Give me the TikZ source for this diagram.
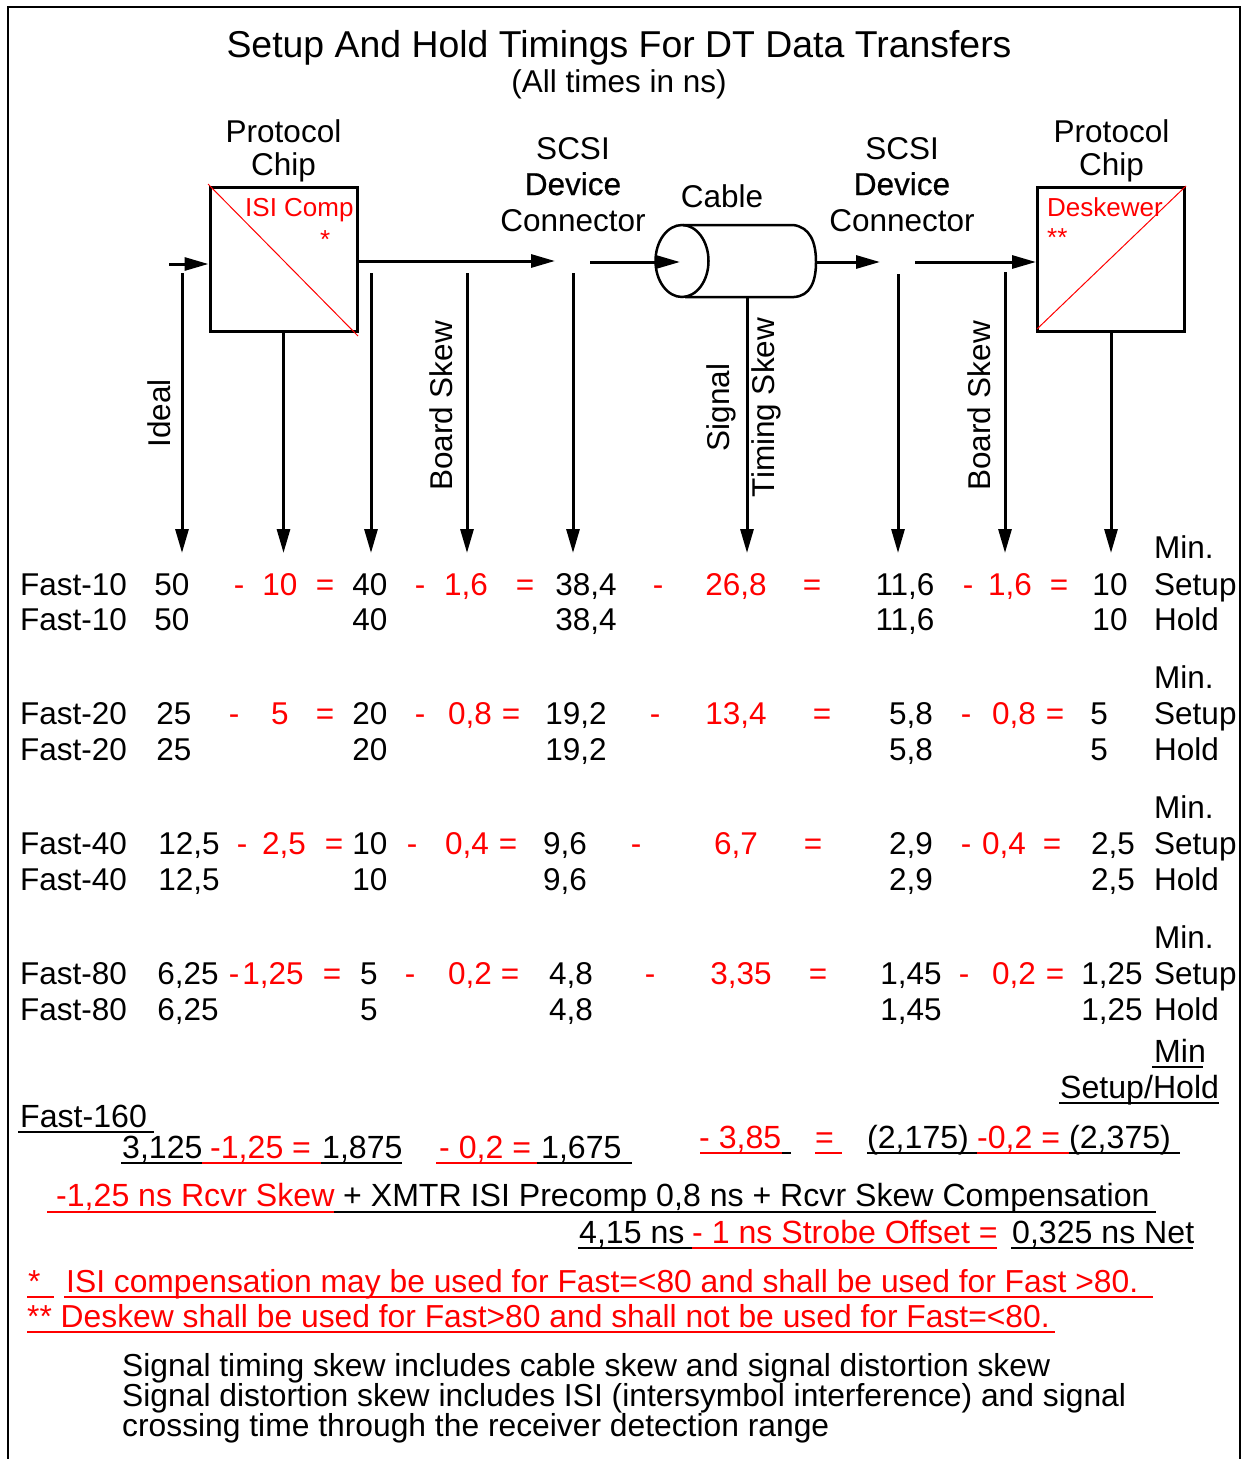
\documentclass[tikz,border=0pt]{standalone}
\usepackage{fontspec}
\setmainfont{Liberation Sans}
\usetikzlibrary{arrows.meta,calc}
\newcommand{\tC}[5]{\node[txt,#4,anchor=base] (#1) at (#2,#3) {#5};}
\newcommand{\tL}[5]{\node[txt,#4,anchor=base west] (#1) at (#2,#3) {#5};}
\newcommand{\bL}[5]{\node[btxt,#4,anchor=base west] (#1) at (#2,#3) {#5};}
\newcommand{\nL}[5]{\node[ntxt,#4,anchor=base west] (#1) at (#2,#3) {#5};}
\begin{document}
\begin{tikzpicture}[x=1pt,y=-1pt,
  txt/.style={inner sep=0pt, font=\fontsize{31.5}{35}\selectfont},
  btxt/.style={inner sep=0pt, font=\fontsize{32.1}{35}\selectfont},
  ntxt/.style={inner sep=0pt, font=\fontsize{31.8}{35}\selectfont},
  ttl/.style={inner sep=0pt, font=\fontsize{37.4}{42}\selectfont},
  sm/.style={inner sep=0pt, font=\fontsize{26}{30}\selectfont, text=red},
  r/.style={text=red},
  k/.style={text=black},
  arr/.style={line width=3pt, -{Triangle[length=24pt,width=13pt]}},
  ul/.style={line width=2.5pt},
  ulr/.style={line width=2.5pt, red},
  chipbox/.style={draw, line width=3pt, inner sep=0pt, minimum width=147pt, minimum height=144pt},
]
\useasboundingbox (0,0) rectangle (1245,1459);
\fill[white] (0,0) rectangle (1245,1459);
\draw[line width=2pt] (8,1459) -- (8,7) -- (1240,7) -- (1240,1459);

% titles
\node[ttl,anchor=base] (title) at (619,57) {Setup And Hold Timings For DT Data Transfers};
\node[txt,anchor=base] (subtitle) at (619,92) {(All times in ns)};

% top labels
\tC{pcL1}{283.5}{142}{k}{Protocol}
\tC{pcL2}{283.5}{175}{k}{Chip}
\tC{pcR1}{1111.5}{142}{k}{Protocol}
\tC{pcR2}{1111.5}{175}{k}{Chip}
\tC{scL1}{573}{159}{k}{SCSI}
\tC{scL2}{573}{195}{k}{\addfontfeature{FakeBold=0.6}Device}
\tC{scL3}{573}{231}{k}{Connector}
\tC{scR1}{902}{159}{k}{SCSI}
\tC{scR2}{902}{195}{k}{\addfontfeature{FakeBold=0.6}Device}
\tC{scR3}{902}{231}{k}{Connector}
\tC{cablelbl}{722}{207}{k}{Cable}

% chips
\node[chipbox] (chipL) at (283.5,259) {};
\node[chipbox] (chipR) at (1111,259) {};
\draw[red, line width=1pt] (208,184) -- (358,336);
\draw[red, line width=1pt] (1037,329) -- (1186,186);
\node[sm,anchor=base west] (isicomp) at (245,216) {ISI Comp};
\node[sm,anchor=base west] (star1) at (320,248) {*};
\node[sm,anchor=base west] (deskewer) at (1047,216) {Deskewer};
\node[sm,anchor=base west] (star2) at (1047,246) {**};

% cable
\draw[line width=2.5pt] (683,225) -- (793,225) .. controls (810,227) and (816,242) .. (816,262) .. controls (816,282) and (810,296) .. (794,297) -- (685,297);
\draw[line width=2.5pt] (682,261) ellipse [x radius=26.5pt, y radius=36pt];

% coordinates
\coordinate (inL) at (169,264);
\coordinate (scsiLin) at (555,261);
\coordinate (scsiLout) at (590,262);
\coordinate (cabIn) at (680,262);
\coordinate (cabOut) at (816,262);
\coordinate (scsiRin) at (880,262);
\coordinate (scsiRout) at (915,262);
\coordinate (cabBot) at (747,297);
\coordinate (t1) at (182,273); \coordinate (b1) at (182,553);
\coordinate (b2) at (283.5,553);
\coordinate (t3) at (371,273); \coordinate (b3) at (371,553);
\coordinate (t4) at (467,273); \coordinate (b4) at (467,553);
\coordinate (t5) at (573,273); \coordinate (b5) at (573,553);
\coordinate (b6) at (747,553);
\coordinate (t7) at (898,274); \coordinate (b7) at (898,553);
\coordinate (t8) at (1005,272); \coordinate (b8) at (1005,553);
\coordinate (b9) at (1111,553);

% horizontal arrows
\draw[arr] (inL) -- (inL -| chipL.west);
\draw[arr] (chipL.east |- scsiLin) -- (scsiLin);
\draw[arr] (scsiLout) -- (cabIn);
\draw[arr] (cabOut) -- (scsiRin);
\draw[arr] (scsiRout) -- (scsiRout -| chipR.west);

% vertical arrows
\draw[arr] (t1) -- (b1);
\draw[arr] (chipL.south) -- (b2);
\draw[arr] (t3) -- (b3);
\draw[arr] (t4) -- (b4);
\draw[arr] (t5) -- (b5);
\draw[arr] (cabBot) -- (b6);
\draw[arr] (t7) -- (b7);
\draw[arr] (t8) -- (b8);
\draw[arr] (chipR.south) -- (b9);

% vertical labels
\node[txt,rotate=90,anchor=base] (lblIdeal) at (170,413.5) {Ideal};
\node[txt,rotate=90,anchor=base] (lblBS1) at (452,406) {Board Skew};
\node[txt,rotate=90,anchor=base] (lblSig) at (729,407.5) {Signal};
\node[txt,rotate=90,anchor=base] (lblTS) at (774,407.5) {Timing Skew};
\node[txt,rotate=90,anchor=base] (lblBS2) at (990,406) {Board Skew};

% ---- Fast-10
\tL{minA}{1154}{558}{k}{Min.}
\tL{a0}{20}{595}{k}{Fast-10}
\tC{a1}{172}{595}{k}{50}
\tC{a2}{239}{595}{r}{-}
\tC{a3}{280}{595}{r}{10}
\tC{a4}{325}{595}{r}{=}
\tC{a5}{370}{595}{k}{40}
\tC{a6}{420}{595}{r}{-}
\tC{a7}{466}{595}{r}{1,6}
\tC{a8}{525}{595}{r}{=}
\tC{a9}{586}{595}{k}{38,4}
\tC{a10}{658}{595}{r}{-}
\tC{a11}{736}{595}{r}{26,8}
\tC{a12}{812}{595}{r}{=}
\tC{a13}{905}{595}{k}{11,6}
\tC{a14}{968}{595}{r}{-}
\tC{a15}{1010}{595}{r}{1,6}
\tC{a16}{1059}{595}{r}{=}
\tC{a17}{1110}{595}{k}{10}
\tL{a18}{1154}{595}{k}{Setup}
\tL{aa0}{20}{630}{k}{Fast-10}
\tC{aa1}{172}{630}{k}{50}
\tC{aa5}{370}{630}{k}{40}
\tC{aa9}{586}{630}{k}{38,4}
\tC{aa13}{905}{630}{k}{11,6}
\tC{aa17}{1110}{630}{k}{10}
\tL{aa18}{1154}{630}{k}{Hold}

% ---- Fast-20
\tL{minB}{1154}{688}{k}{Min.}
\tL{b0}{20}{724}{k}{Fast-20}
\tC{bq1}{174}{724}{k}{25}
\tC{bq2}{234}{724}{r}{-}
\tC{bq3}{280}{724}{r}{5}
\tC{bq4}{325}{724}{r}{=}
\tC{bq5}{370}{724}{k}{20}
\tC{bq6}{420}{724}{r}{-}
\tC{bq7}{470}{724}{r}{0,8}
\tC{bq8}{511}{724}{r}{=}
\tC{bq9}{576}{724}{k}{19,2}
\tC{bq10}{655}{724}{r}{-}
\tC{bq11}{736}{724}{r}{13,4}
\tC{bq12}{822}{724}{r}{=}
\tC{bq13}{911}{724}{k}{5,8}
\tC{bq14}{966}{724}{r}{-}
\tC{bq15}{1014}{724}{r}{0,8}
\tC{bq16}{1055}{724}{r}{=}
\tC{bq17}{1099}{724}{k}{5}
\tL{bq18}{1154}{724}{k}{Setup}
\tL{bb0}{20}{760}{k}{Fast-20}
\tC{bb1}{174}{760}{k}{25}
\tC{bb5}{370}{760}{k}{20}
\tC{bb9}{576}{760}{k}{19,2}
\tC{bb13}{911}{760}{k}{5,8}
\tC{bb17}{1099}{760}{k}{5}
\tL{bb18}{1154}{760}{k}{Hold}

% ---- Fast-40
\tL{minC}{1154}{818}{k}{Min.}
\tL{c0}{20}{854}{k}{Fast-40}
\tC{c1}{189}{854}{k}{12,5}
\tC{c2}{242}{854}{r}{-}
\tC{c3}{284}{854}{r}{2,5}
\tC{c4}{334}{854}{r}{=}
\tC{c5}{370}{854}{k}{10}
\tC{c6}{412}{854}{r}{-}
\tC{c7}{467}{854}{r}{0,4}
\tC{c8}{508}{854}{r}{=}
\tC{c9}{565}{854}{k}{9,6}
\tC{c10}{636}{854}{r}{-}
\tC{c11}{736}{854}{r}{6,7}
\tC{c12}{813}{854}{r}{=}
\tC{c13}{911}{854}{k}{2,9}
\tC{c14}{966}{854}{r}{-}
\tC{c15}{1004}{854}{r}{0,4}
\tC{c16}{1052}{854}{r}{=}
\tC{c17}{1113}{854}{k}{2,5}
\tL{c18}{1154}{854}{k}{Setup}
\tL{cc0}{20}{890}{k}{Fast-40}
\tC{cc1}{189}{890}{k}{12,5}
\tC{cc5}{370}{890}{k}{10}
\tC{cc9}{565}{890}{k}{9,6}
\tC{cc13}{911}{890}{k}{2,9}
\tC{cc17}{1113}{890}{k}{2,5}
\tL{cc18}{1154}{890}{k}{Hold}

% ---- Fast-80
\tL{minD}{1154}{948}{k}{Min.}
\tL{d0}{20}{984}{k}{Fast-80}
\tC{d1}{188}{984}{k}{6,25}
\tC{d2}{234}{984}{r}{-}
\tC{d3}{273}{984}{r}{1,25}
\tC{d4}{332}{984}{r}{=}
\tC{d5}{369}{984}{k}{5}
\tC{d6}{410}{984}{r}{-}
\tC{d7}{470}{984}{r}{0,2}
\tC{d8}{510}{984}{r}{=}
\tC{d9}{571}{984}{k}{4,8}
\tC{d10}{650}{984}{r}{-}
\tC{d11}{741}{984}{r}{3,35}
\tC{d12}{818}{984}{r}{=}
\tC{d13}{911}{984}{k}{1,45}
\tC{d14}{964}{984}{r}{-}
\tC{d15}{1014}{984}{r}{0,2}
\tC{d16}{1055}{984}{r}{=}
\tC{d17}{1112}{984}{k}{1,25}
\tL{d18}{1154}{984}{k}{Setup}
\tL{dd0}{20}{1020}{k}{Fast-80}
\tC{dd1}{188}{1020}{k}{6,25}
\tC{dd5}{369}{1020}{k}{5}
\tC{dd9}{571}{1020}{k}{4,8}
\tC{dd13}{911}{1020}{k}{1,45}
\tC{dd17}{1112}{1020}{k}{1,25}
\tL{dd18}{1154}{1020}{k}{Hold}

% ---- Fast-160
\bL{minE}{1154}{1062}{k}{Min}
\draw[ul] (1152,1067) -- (1203,1067);
\bL{shE}{1060}{1098}{k}{Setup/Hold}
\draw[ul] (1059,1103) -- (1219,1103);
\bL{f0}{20}{1127}{k}{Fast-160}
\draw[ul] (18,1132) -- (154,1132);

\bL{f1}{122}{1158}{k}{3,125}
\bL{f2}{210}{1158}{r}{-1,25 =}
\bL{f3}{322}{1158}{k}{1,875}
\draw[ul] (121,1163) -- (202,1163);
\draw[ulr] (202,1163) -- (321,1163);
\draw[ul] (321,1163) -- (402,1163);
\bL{f4}{439}{1158}{r}{- 0,2 =}
\bL{f5}{541}{1158}{k}{1,675}
\draw[ulr] (436,1163) -- (537,1163);
\draw[ul] (537,1163) -- (632,1163);

\bL{f6}{699}{1148}{r}{- 3,85}
\draw[ulr] (700,1153) -- (782,1153);
\draw[ul] (782,1153) -- (791,1153);
\bL{f7}{815}{1148}{r}{=}
\draw[ulr] (815,1153) -- (842,1153);
\bL{f8}{867}{1148}{k}{(2,175)}
\draw[ul] (867,1153) -- (977,1153);
\bL{f9}{977}{1148}{r}{-0,2 =}
\draw[ulr] (977,1153) -- (1069,1153);
\bL{f10}{1069}{1148}{k}{(2,375)}
\draw[ul] (1069,1153) -- (1180,1153);

\bL{g1}{56}{1206}{r}{-1,25 ns Rcvr Skew}
\draw[ulr] (47,1212) -- (334,1212);
\bL{g2}{343}{1206}{k}{+ XMTR ISI Precomp 0,8 ns + Rcvr Skew Compensation}
\draw[ul] (334,1212) -- (1156,1212);

\bL{h1}{579}{1243}{k}{4,15 ns}
\draw[ul] (578,1248) -- (692,1248);
\bL{h2}{692}{1243}{r}{- 1 ns Strobe Offset =}
\draw[ulr] (692,1248) -- (997,1248);
\bL{h3}{1012}{1243}{k}{0,325 ns Net}
\draw[ul] (1011,1248) -- (1193,1248);

% notes
\nL{n1}{28}{1292}{r}{*}
\draw[ulr] (27,1297) -- (54,1297);
\nL{n2}{66}{1292}{r}{ISI compensation may be used for Fast=<80 and shall be used for Fast >80.}
\draw[ulr] (64,1297) -- (1153,1297);
\nL{n3}{27}{1327}{r}{** Deskew shall be used for Fast>80 and shall not be used for Fast=<80.}
\draw[ulr] (27,1332) -- (1055,1332);

\nL{p1}{122}{1376}{k}{Signal timing skew includes cable skew and signal distortion skew}
\nL{p2}{122}{1406}{k}{Signal distortion skew includes ISI (intersymbol interference) and signal}
\nL{p3}{122}{1436}{k}{crossing time through the receiver detection range}
\end{tikzpicture}
\end{document}
